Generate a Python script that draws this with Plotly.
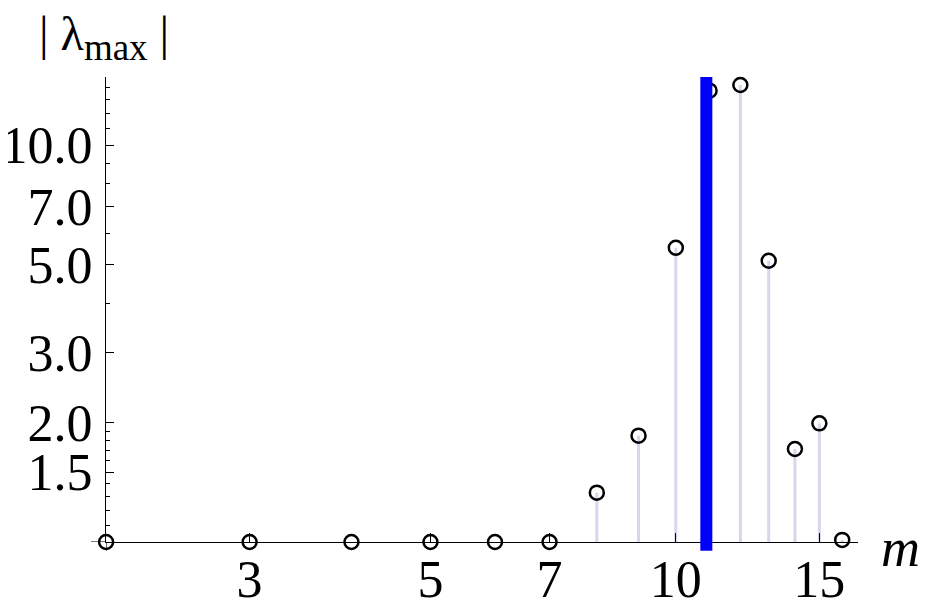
import plotly.graph_objects as go
import math

# ---- data ----
m_values = [2, 3, 4, 5, 6, 7, 8, 9, 10, 11, 12, 13, 14, 15, 16]
lambda_max = [1.0, 1.0, 1.0, 1.0, 1.0, 1.0, 1.331, 1.853, 5.51, 13.71, 14.17, 5.11, 1.715, 1.99, 1.012]
critical_m = 10.9
baseline = 1.0

x_tickvals = [3, 5, 7, 10, 15]
x_ticktext = ["3", "5", "7", "10", "15"]
y_tickvals = [1.5, 2.0, 3.0, 5.0, 7.0, 10.0]
y_ticktext = ["1.5", "2.0", "3.0", "5.0", "7.0", "10.0"]
y_minor = [1.1, 1.2, 1.3, 1.4, 1.6, 1.7, 1.8, 1.9, 4, 6, 8, 9, 11, 12, 13, 14]

x_range = [math.log10(1.9995), math.log10(16.73)]
y_range = [math.log10(0.9999), math.log10(14.84)]

FONT = "Liberation Serif"
W, H = 927, 616
OFF = 8  # page body offset
L, T = 106 - OFF, 77 - OFF
PW, PH = 752, 465
R, B = W - L - PW, H - T - PH


def px(x):
    return (x - OFF - L) / PW


def py(y):
    return (T + PH - (y - OFF)) / PH


# stems
sx, sy = [], []
for m, v in zip(m_values, lambda_max):
    if v > baseline:
        sx += [m, m, None]
        sy += [baseline, v, None]

fig = go.Figure()
fig.add_trace(go.Scatter(x=sx, y=sy, mode="lines",
                         line=dict(color="#d6d6ec", width=3),
                         hoverinfo="skip", showlegend=False))
fig.add_trace(go.Scatter(x=m_values, y=lambda_max, mode="markers",
                         marker=dict(symbol="circle-open", size=14, color="black",
                                     line=dict(width=2.5, color="black")),
                         cliponaxis=False, showlegend=False))

shapes = [
    dict(type="line", xref="x", yref="paper", x0=critical_m, x1=critical_m,
         y0=-0.019, y1=1, line=dict(color="#0000ff", width=12), layer="above"),
    dict(type="line", xref="x", yref="paper", x0=2, x1=2, y0=-0.019, y1=0,
         line=dict(color="black", width=1)),
    dict(type="line", xref="paper", yref="y", x0=-0.02, x1=0, y0=baseline, y1=baseline,
         line=dict(color="black", width=1)),
]

fig.update_layout(
    width=W, height=H,
    margin=dict(l=L, r=R, t=T, b=B),
    paper_bgcolor="white", plot_bgcolor="white",
    font=dict(family=FONT, color="black", size=48),
    shapes=shapes,
    xaxis=dict(type="log", range=x_range, showgrid=False, zeroline=False, automargin=False,
               showline=True, linecolor="black", linewidth=1,
               tickmode="array", tickvals=x_tickvals, ticktext=x_ticktext,
               ticks="inside", ticklen=9, tickcolor="black", tickwidth=1,
               tickfont=dict(family=FONT, size=52), ticklabelstandoff=-8),
    yaxis=dict(type="log", range=y_range, showgrid=False, zeroline=False, automargin=False,
               showline=True, linecolor="black", linewidth=1,
               tickmode="array", tickvals=y_tickvals, ticktext=y_ticktext,
               ticks="inside", ticklen=8, tickcolor="black", tickwidth=1,
               tickfont=dict(family=FONT, size=52), ticklabelstandoff=2,
               minor=dict(tickmode="array", tickvals=y_minor, ticks="inside",
                          ticklen=4, tickcolor="black", tickwidth=1, showgrid=False)),
    annotations=[
        dict(text="| λ<sub><span style='font-size:37px'>max</span></sub> |",
             xref="paper", yref="paper",
             x=px(104), y=py(38), xanchor="center", yanchor="middle",
             showarrow=False, font=dict(family=FONT, size=48)),
        dict(text="<i>m</i>", xref="paper", yref="paper",
             x=px(900), y=py(548), xanchor="center", yanchor="middle",
             showarrow=False, font=dict(family=FONT, size=54)),
    ],
)

fig.write_html("out.html")
